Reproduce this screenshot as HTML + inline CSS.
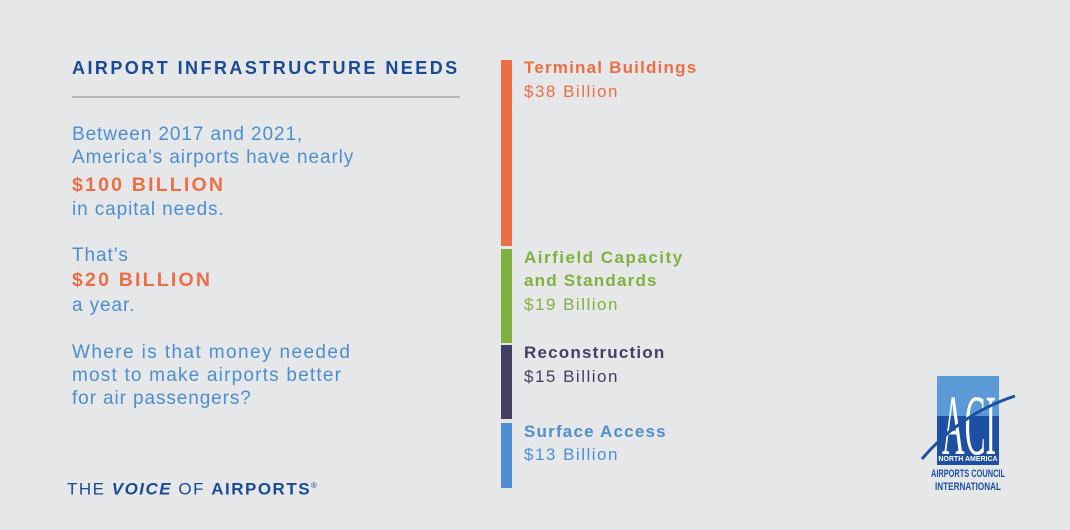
<!DOCTYPE html>
<html><head><style>
body{margin:0;width:1070px;height:530px;background:#e6e7e9;position:relative;overflow:hidden;font-family:"Liberation Sans",sans-serif}
.t{position:absolute;white-space:nowrap;line-height:23px}
.b{position:absolute;left:501px;width:11px}
.body{color:#4e8dcf;font-size:19px;left:72px;letter-spacing:0.9px}
.big{color:#ec6e46;font-size:19.5px;font-weight:bold;left:72px;letter-spacing:2.2px}
.lbl{left:524px;font-size:17px;letter-spacing:1.2px}
.lbl.r{letter-spacing:1.5px}
</style></head><body>
<div class="t" style="left:72px;top:57px;color:#1b4a94;font-size:18px;font-weight:bold;letter-spacing:2.45px">AIRPORT INFRASTRUCTURE NEEDS</div>
<div style="position:absolute;left:72px;top:96px;width:388px;height:2px;background:#b5b7ba"></div>
<div class="t body" style="top:123px">Between 2017 and 2021,</div>
<div class="t body" style="top:146px">America’s airports have nearly</div>
<div class="t big" style="top:174px">$100 BILLION</div>
<div class="t body" style="top:198px">in capital needs.</div>
<div class="t body" style="top:244px">That’s</div>
<div class="t big" style="top:269px">$20 BILLION</div>
<div class="t body" style="top:294px">a year.</div>
<div class="t body" style="top:341px;letter-spacing:1.4px">Where is that money needed</div>
<div class="t body" style="top:364px;letter-spacing:1.2px">most to make airports better</div>
<div class="t body" style="top:387px">for air passengers?</div>
<div class="t" style="left:67px;top:474px;color:#1b4a94;font-size:17px;letter-spacing:1.5px">THE <b><i>VOICE</i></b> OF <b>AIRPORTS</b><sup style="font-size:8px">®</sup></div>
<div class="b" style="top:60px;height:186px;background:#ec6e46"></div>
<div class="b" style="top:249px;height:94px;background:#7fb13f"></div>
<div class="b" style="top:345px;height:74px;background:#433f63"></div>
<div class="b" style="top:423px;height:65px;background:#4f8fcf"></div>
<div class="t lbl" style="top:56px;color:#ec6e46;font-weight:bold">Terminal Buildings</div>
<div class="t lbl r" style="top:80px;color:#ec6e46">$38 Billion</div>
<div class="t lbl" style="top:246px;color:#7fb13f;font-weight:bold;letter-spacing:1.5px">Airfield Capacity</div>
<div class="t lbl" style="top:269px;color:#7fb13f;font-weight:bold">and Standards</div>
<div class="t lbl r" style="top:293px;color:#7fb13f">$19 Billion</div>
<div class="t lbl" style="top:341px;color:#433f63;font-weight:bold">Reconstruction</div>
<div class="t lbl r" style="top:365px;color:#433f63">$15 Billion</div>
<div class="t lbl" style="top:420px;color:#4f8fcf;font-weight:bold">Surface Access</div>
<div class="t lbl r" style="top:443px;color:#4f8fcf">$13 Billion</div>
<svg style="position:absolute;left:920px;top:374px" width="100" height="120">
<rect x="17" y="2" width="62" height="89" fill="#1d4fa2"/>
<rect x="17" y="2" width="62" height="40" fill="#5b9ad6"/>
<text x="22" y="80" fill="#fff" font-family="Liberation Serif" font-size="86" textLength="54" lengthAdjust="spacingAndGlyphs">ACI</text>
<path d="M2 85 Q40 40 95 22" stroke="#1d4fa2" stroke-width="3" fill="none"/>
<text x="48" y="87" text-anchor="middle" fill="#fff" font-size="7" font-weight="bold">NORTH AMERICA</text>
<text x="48" y="103" text-anchor="middle" fill="#1d4fa2" font-size="11" font-weight="bold" textLength="74" lengthAdjust="spacingAndGlyphs">AIRPORTS COUNCIL</text>
<text x="48" y="116" text-anchor="middle" fill="#1d4fa2" font-size="11" font-weight="bold" textLength="66" lengthAdjust="spacingAndGlyphs">INTERNATIONAL</text>
</svg>
</body></html>
